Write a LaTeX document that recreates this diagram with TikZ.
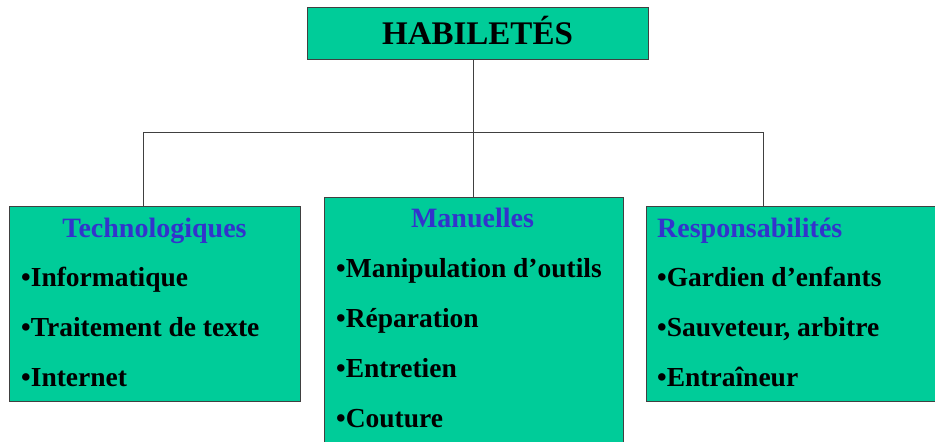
\documentclass[tikz,border=0pt]{standalone}
\usepackage{fontspec}
\setmainfont{Liberation Serif}
\usetikzlibrary{positioning,calc}
\definecolor{boxgreen}{HTML}{00CC99}
\definecolor{headblue}{HTML}{3333CC}
\definecolor{rulegray}{HTML}{404040}

\tikzset{
  box/.style={draw=rulegray, fill=boxgreen, line width=1pt, inner sep=0pt},
  head/.style={font=\bfseries\fontsize{28}{32}\selectfont, text=headblue, inner sep=0pt, anchor=base},
  item/.style={font=\bfseries\fontsize{27.5}{32}\selectfont, anchor=base west, inner sep=0pt},
  link/.style={draw=rulegray, line width=1pt}
}

\begin{document}
\begin{tikzpicture}[x=1pt, y=-1pt]
  \useasboundingbox (0,0) rectangle (935,442);
  \clip (0,0) rectangle (935,442);

  % title
  \node[box, minimum width=341pt, minimum height=52pt] (top) at (477.5,33) {};
  \node[anchor=base, inner sep=0pt, font=\bfseries\fontsize{33}{38}\selectfont]
    (title) at (477.5,44) {HABILETÉS};

  % the three boxes
  \node[box, minimum width=291pt, minimum height=195pt] (tech) at (154.5,303.5) {};
  \node[box, minimum width=299pt, minimum height=263pt] (manu) at (473.5,328.5) {};
  \node[box, minimum width=314pt, minimum height=195pt] (resp) at (803,303.5) {};

  % connectors
  \coordinate (hub) at (473,132);
  \coordinate (lt) at (143,132);
  \coordinate (rt) at (763,132);
  \draw[link] (top.south -| hub) -- (hub);
  \draw[link] (lt) -- (rt);
  \draw[link] (lt) -- (lt |- tech.north);
  \draw[link] (hub) -- (hub |- manu.north);
  \draw[link] (rt) -- (rt |- resp.north);

  % Technologiques
  \node[head] (th) at (154.5,237) {Technologiques};
  \node[item] (t1) at (21,286) {•Informatique};
  \node[item] (t2) at (21,336) {•Traitement de texte};
  \node[item] (t3) at (21,386) {•Internet};

  % Manuelles
  \node[head] (mh) at (472.5,227) {Manuelles};
  \node[item] (m1) at (336,277) {•Manipulation d’outils};
  \node[item] (m2) at (336,327) {•Réparation};
  \node[item] (m3) at (336,377) {•Entretien};
  \node[item] (m4) at (336,427) {•Couture};

  % Responsabilites
  \node[head, anchor=base west] (rh) at (657,237) {Responsabilités};
  \node[item] (r1) at (657,286) {•Gardien d’enfants};
  \node[item] (r2) at (657,336) {•Sauveteur, arbitre};
  \node[item] (r3) at (657,386) {•Entraîneur};
\end{tikzpicture}
\end{document}
